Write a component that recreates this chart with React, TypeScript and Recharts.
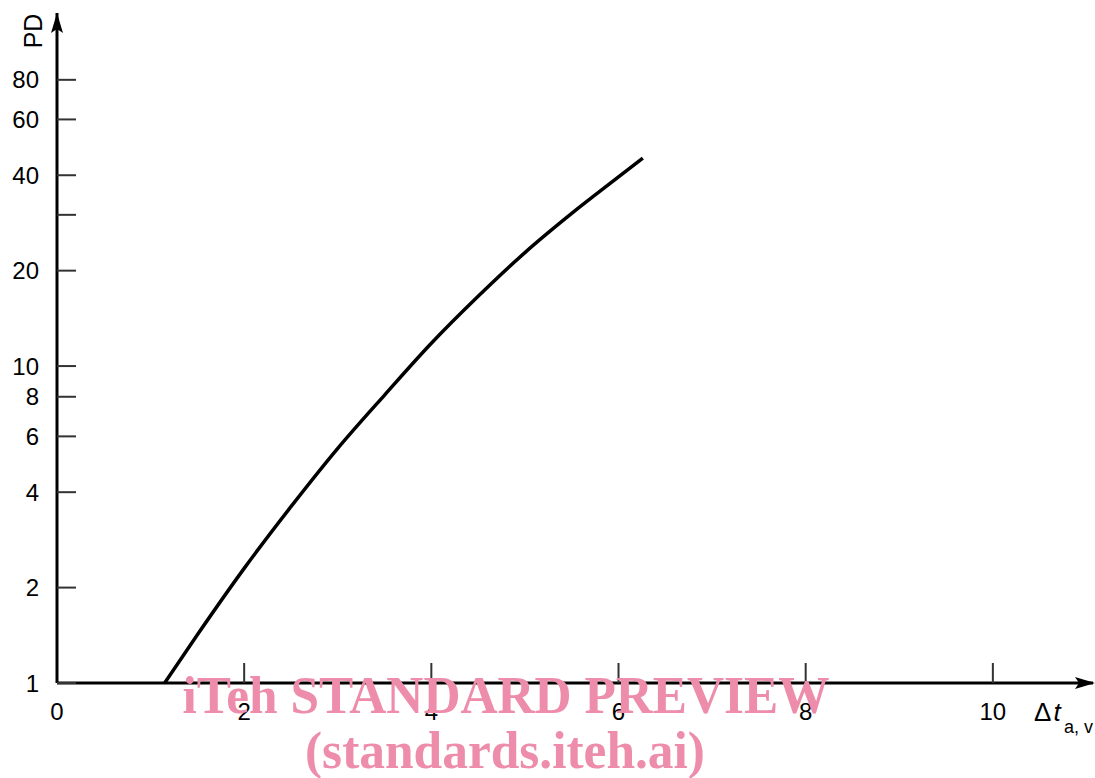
import React from 'react';
import { LineChart, Line, XAxis, YAxis, ReferenceDot } from 'recharts';

// curve (PD vs Δt a,v, log y-axis)
const dtValues = [1.15, 1.5, 2.0, 2.5, 3.0, 3.5, 4.0, 4.5, 5.0, 5.5, 6.0, 6.26];
const pdValues = [1, 1.42, 2.3, 3.6, 5.5, 8.1, 11.8, 16.6, 22.8, 30.3, 39.5, 45.3];

const xTicks = [0, 2, 4, 6, 8, 10];
const yTicks = [1, 2, 4, 6, 8, 10, 20, 30, 40, 60, 80];
const yTickLabels = ['1', '2', '4', '6', '8', '10', '20', '', '40', '60', '80'];

const X_MAX = 11.07;
const Y_MAX = 130;

const data = dtValues.map((dt, i) => ({ dt, pd: pdValues[i] }));

const FONT = '"Liberation Sans", Arial, sans-serif';
const SERIF = '"Liberation Serif", "Times New Roman", serif';
const PINK = '#ED8DAB';

const YTick = (props: any) => {
  const { x, y, payload } = props;
  const idx = yTicks.indexOf(payload.value);
  return (
    <g>
      <line x1={x} x2={x + 19} y1={y} y2={y} stroke="#333" strokeWidth={2} />
      <text x={x - 18} y={y} dy="0.36em" textAnchor="end" fontSize={24} fontFamily={FONT} fill="#000">
        {yTickLabels[idx]}
      </text>
    </g>
  );
};

const XTick = (props: any) => {
  const { x, y, payload } = props;
  return (
    <g>
      {payload.value !== 0 && <line x1={x} x2={x} y1={y} y2={y - 20} stroke="#333" strokeWidth={2} />}
      <text x={x} y={y + 37} textAnchor="middle" fontSize={24} fontFamily={FONT} fill="#000">
        {payload.value}
      </text>
    </g>
  );
};

const RightArrow = (props: any) => {
  const { cx, cy } = props;
  return <polygon points={`${cx + 2},${cy} ${cx - 18},${cy - 6} ${cx - 14},${cy} ${cx - 18},${cy + 6}`} fill="#000" />;
};

const UpArrow = (props: any) => {
  const { cx, cy } = props;
  return <polygon points={`${cx},${cy} ${cx - 6},${cy + 20} ${cx},${cy + 16} ${cx + 6},${cy + 20}`} fill="#000" />;
};

export default function App() {
  return (
    <div style={{ position: 'absolute', left: 0, top: 0, width: 1095, height: 778, background: '#fff' }}>
      <LineChart
        width={1095}
        height={778}
        data={data}
        margin={{ top: 13, right: 2, bottom: 65, left: 17 }}
      >
        <XAxis
          dataKey="dt"
          type="number"
          domain={[0, X_MAX]}
          ticks={xTicks}
          height={30}
          tickSize={0}
          tickMargin={0}
          allowDataOverflow
          axisLine={{ stroke: '#000', strokeWidth: 3 }}
          tick={<XTick />}
          interval={0}
        />
        <YAxis
          dataKey="pd"
          type="number"
          scale="log"
          domain={[1, Y_MAX]}
          ticks={yTicks}
          width={40}
          tickSize={0}
          tickMargin={0}
          allowDataOverflow
          axisLine={{ stroke: '#000', strokeWidth: 3 }}
          tick={<YTick />}
          interval={0}
        />
        <Line
          dataKey="pd"
          type="monotone"
          stroke="#000"
          strokeWidth={3.5}
          dot={false}
          isAnimationActive={false}
        />
        <ReferenceDot x={X_MAX} y={1} r={0} shape={<RightArrow />} ifOverflow="visible" />
        <ReferenceDot x={0} y={Y_MAX} r={0} shape={<UpArrow />} ifOverflow="visible" />
      </LineChart>
      <svg
        width={1095}
        height={778}
        style={{ position: 'absolute', left: 0, top: 0, pointerEvents: 'none' }}
      >
        <text
          transform="translate(42,31) rotate(-90)"
          textAnchor="middle"
          fontSize={25}
          fontFamily={FONT}
          fill="#000"
        >
          PD
        </text>
        <text x={1034} y={721} fontSize={26} fontFamily={FONT} fill="#000">
          Δ<tspan dx={2} fontStyle="italic">t</tspan>
        </text>
        <text x={1064} y={733} fontSize={18} fontFamily={FONT} fill="#000">
          a, v
        </text>
        <text
          x={506}
          y={713}
          textAnchor="middle"
          fontSize={52}
          fontWeight="bold"
          fontFamily={SERIF}
          fill={PINK}
          textLength={647}
          lengthAdjust="spacingAndGlyphs"
        >
          iTeh STANDARD PREVIEW
        </text>
        <text
          x={505}
          y={768}
          textAnchor="middle"
          fontSize={52}
          fontWeight="bold"
          fontFamily={SERIF}
          fill={PINK}
          textLength={400}
          lengthAdjust="spacingAndGlyphs"
        >
          (standards.iteh.ai)
        </text>
      </svg>
    </div>
  );
}
